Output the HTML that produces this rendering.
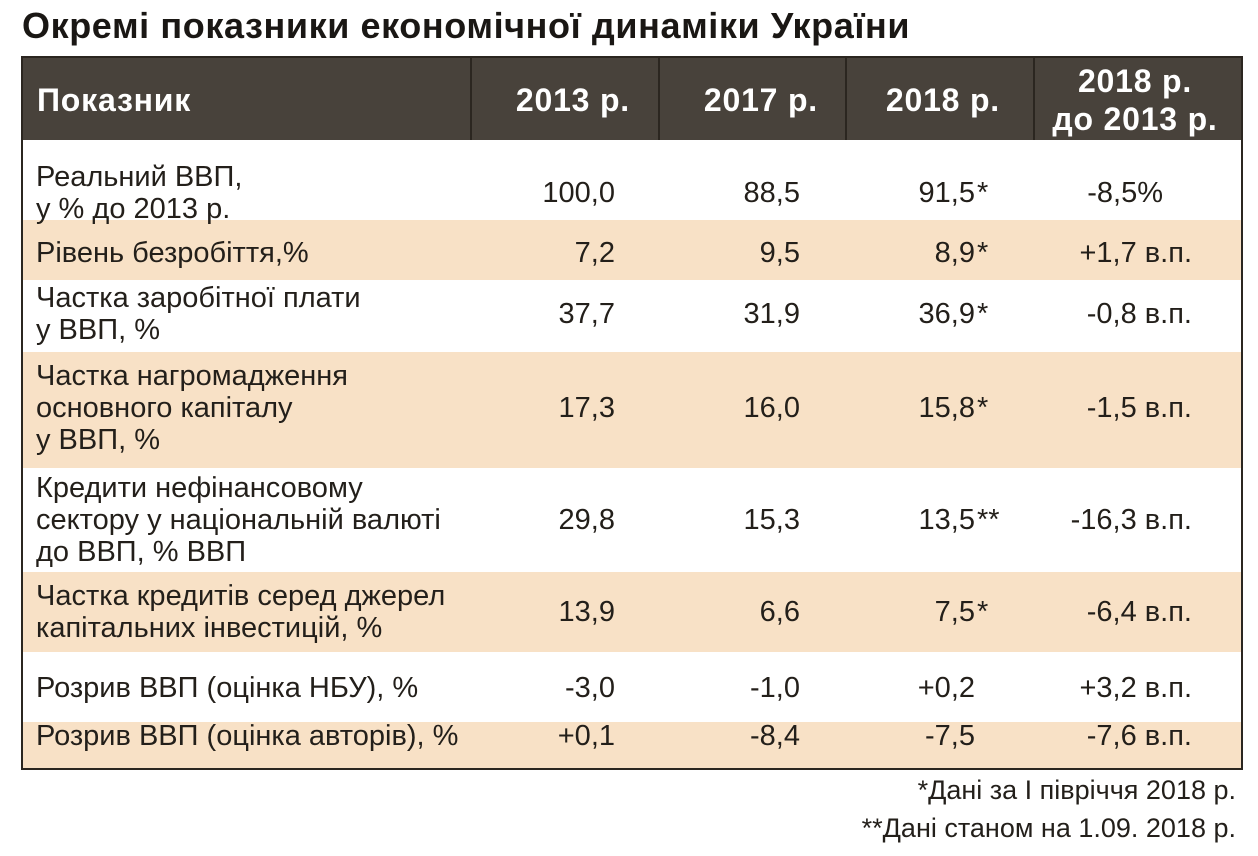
<!DOCTYPE html>
<html><head><meta charset="utf-8"><style>
body{margin:0;width:1258px;height:856px;background:#fff;position:relative;overflow:hidden;font-family:"Liberation Sans",sans-serif;color:#231f1a}
.a{position:absolute;white-space:nowrap;font-size:29px;line-height:32px}
.r{text-align:right}
.h{color:#fff;font-weight:bold;font-size:32px;letter-spacing:0.8px}
.bg{position:absolute;left:22px;width:1220px}
</style></head><body>
<div class="a" style="left:22px;top:5px;font-size:36px;line-height:42px;font-weight:bold;letter-spacing:0.6px;color:#1a1714">Окремі показники економічної динаміки України</div>
<div class="bg" style="top:57px;height:83px;background:#48423b"></div>
<div class="bg" style="top:220px;height:60px;background:#f8e1c6"></div>
<div class="bg" style="top:352px;height:116px;background:#f8e1c6"></div>
<div class="bg" style="top:572px;height:80px;background:#f8e1c6"></div>
<div class="bg" style="top:722px;height:46px;background:#f8e1c6"></div>
<div style="position:absolute;left:21px;top:56px;width:1218px;height:710px;border:2px solid #2b2620"></div>
<div style="position:absolute;left:470px;top:57px;width:2px;height:83px;background:#2b2620"></div>
<div style="position:absolute;left:658px;top:57px;width:2px;height:83px;background:#2b2620"></div>
<div style="position:absolute;left:845px;top:57px;width:2px;height:83px;background:#2b2620"></div>
<div style="position:absolute;left:1033px;top:57px;width:2px;height:83px;background:#2b2620"></div>
<div class="a h" style="left:37px;top:84px">Показник</div>
<div class="a h r" style="right:628px;top:84px">2013 р.</div>
<div class="a h r" style="right:440px;top:84px">2017 р.</div>
<div class="a h r" style="right:258px;top:84px">2018 р.</div>
<div class="a h" style="left:1035px;width:200px;text-align:center;top:62px;line-height:38px">2018 р.<br>до 2013 р.</div>
<div id="rows"></div>
<div class="a r" style="right:22px;top:774px;font-size:27px">*Дані за І півріччя 2018 р.</div>
<div class="a r" style="right:22px;top:812px;font-size:27px">**Дані станом на 1.09. 2018 р.</div>
<script>
const labels=[["Реальний ВВП,","у % до 2013 р."],["Рівень безробіття,%"],["Частка заробітної плати","у ВВП, %"],["Частка нагромадження","основного капіталу","у ВВП, %"],["Кредити нефінансовому","сектору у національній валюті","до ВВП, % ВВП"],["Частка кредитів серед джерел","капітальних інвестицій, %"],["Розрив ВВП (оцінка НБУ), %"],["Розрив ВВП (оцінка авторів), %"]];
const v2013=["100,0","7,2","37,7","17,3","29,8","13,9","-3,0","+0,1"];
const v2017=["88,5","9,5","31,9","16,0","15,3","6,6","-1,0","-8,4"];
const v2018=["91,5","8,9","36,9","15,8","13,5","7,5","+0,2","-7,5"];
const marks=["*","*","*","*","**","*","",""];
const change=["-8,5%","+1,7 в.п.","-0,8 в.п.","-1,5 в.п.","-16,3 в.п.","-6,4 в.п.","+3,2 в.п.","-7,6 в.п."];
const centers=[193,253,314,408,520,612,688,736];
const host=document.getElementById('rows');
function add(name,txt,style){const d=document.createElement('div');d.className='a';d.textContent=txt;d.style.cssText=style;


host.appendChild(d);}
labels.forEach((ls,i)=>{const c=centers[i];const top0=c-ls.length*32/2;
ls.forEach((l,j)=>add('row-label',l,`left:36px;top:${top0+j*32}px`));
add('value-2013',v2013[i],`right:643px;top:${c-16}px;text-align:right`);
add('value-2017',v2017[i],`right:458px;top:${c-16}px;text-align:right`);
add('value-2018',v2018[i],`right:283px;top:${c-16}px;text-align:right`);
if(marks[i])add('footnote-mark',marks[i],`left:977px;top:${c-16}px`);
add('value-change',change[i],`right:${i==0?95:66}px;top:${c-16}px;text-align:right`);
});
</script>
</body></html>
